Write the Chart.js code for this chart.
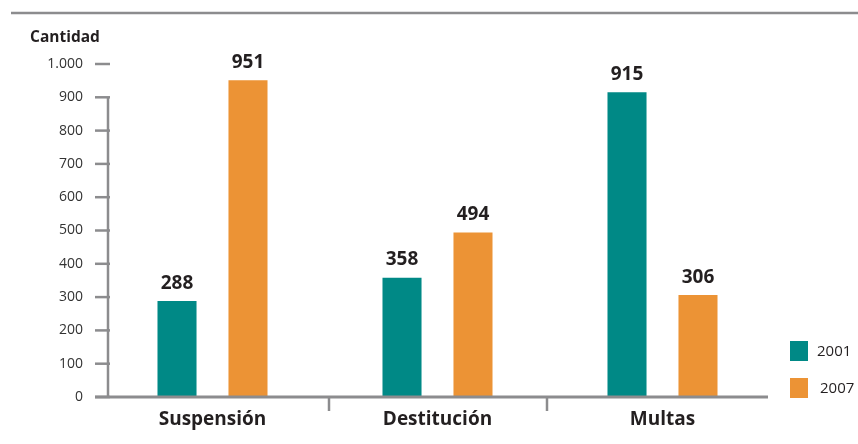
<!DOCTYPE html>
<html>
<head>
<meta charset="utf-8">
<script src="https://cdn.jsdelivr.net/npm/chart.js@4"></script>
<style>
  html, body { margin: 0; padding: 0; background: #fff; }
  #wrap { width: 858px; height: 444px; }
</style>
</head>
<body>
<div id="wrap"><canvas id="myChart1" width="858" height="444"></canvas></div>
<script>
const categories = ['Suspensión', 'Destitución', 'Multas'];
const years = ['2001', '2007'];
const values2001 = [288, 358, 915];
const values2007 = [951, 494, 306];
const yTicks = [0, 100, 200, 300, 400, 500, 600, 700, 800, 900, 1000];

const teal = 'rgb(0, 137, 134)';
const orange = 'rgb(236, 147, 53)';
const gray = '#8c8c8e';
const font = '"Open Sans", "DejaVu Sans", sans-serif';

// axis lines, tick marks, labels above bars, legend, "Cantidad"
const decorations = {
    id: 'decorations',
    afterDraw(chart) {
        const c = chart.ctx;
        const x = chart.scales.x;
        const y = chart.scales.y;
        const bottom = y.getPixelForValue(0);
        c.save();
        c.strokeStyle = gray;
        c.lineCap = 'butt';

        // top rule
        c.lineWidth = 2.5;
        c.beginPath();
        c.moveTo(11, 13);
        c.lineTo(858, 13);
        c.stroke();

        // y axis line (starts at 900) and tick marks
        c.lineWidth = 2.5;
        c.beginPath();
        c.moveTo(108, y.getPixelForValue(900));
        c.lineTo(108, bottom + 1);
        c.stroke();
        yTicks.forEach(v => {
            const py = y.getPixelForValue(v);
            c.beginPath();
            c.moveTo(95, py);
            c.lineTo(110, py);
            c.stroke();
        });

        // x axis line and separators between categories
        c.lineWidth = 3;
        c.beginPath();
        c.moveTo(95, bottom);
        c.lineTo(768, bottom);
        c.stroke();
        c.lineWidth = 2.5;
        const nudge = [4, -3];
        for (let i = 1; i < categories.length; i++) {
            const px = (x.getPixelForValue(i - 1) + x.getPixelForValue(i)) / 2 + nudge[i - 1];
            c.beginPath();
            c.moveTo(px, bottom);
            c.lineTo(px, bottom + 14);
            c.stroke();
        }

        // "Cantidad"
        c.fillStyle = '#231f20';
        c.font = 'bold 15.5px ' + font;
        c.textAlign = 'left';
        c.textBaseline = 'middle';
        c.fillText('Cantidad', 30, 38);

        // values above bars
        c.font = 'bold 19px ' + font;
        c.textAlign = 'center';
        c.textBaseline = 'middle';
        chart.data.datasets.forEach((ds, di) => {
            chart.getDatasetMeta(di).data.forEach((bar, i) => {
                c.fillText(ds.data[i], bar.x, bar.y - 18);
            });
        });

        // legend
        c.font = '15px ' + font;
        c.textAlign = 'left';
        const legendY = [351, 388];
        const textX = [817, 820];
        chart.data.datasets.forEach((ds, di) => {
            c.fillStyle = ds.backgroundColor;
            c.fillRect(790, legendY[di] - 10, 18, 20);
            c.fillStyle = '#231f20';
            c.fillText(ds.label, textX[di], legendY[di] + 1);
        });
        c.restore();
    }
};

new Chart(document.getElementById('myChart1'), {
    type: 'bar',
    data: {
        labels: categories,
        datasets: [{
            label: years[0],
            data: values2001,
            backgroundColor: teal,
            categoryPercentage: 0.631,
            barPercentage: 0.55
        }, {
            label: years[1],
            data: values2007,
            backgroundColor: orange,
            categoryPercentage: 0.631,
            barPercentage: 0.55
        }]
    },
    options: {
        responsive: false,
        animation: false,
        layout: { padding: { top: 64, right: 83, bottom: 0, left: 0 } },
        plugins: {
            legend: { display: false },
            tooltip: { enabled: false }
        },
        scales: {
            x: {
                grid: { display: false, drawTicks: false },
                border: { display: false },
                ticks: {
                    color: '#231f20',
                    font: { family: font, size: 19, weight: 'bold' },
                    padding: 11
                },
                afterFit(s) { s.height = 47; }
            },
            y: {
                min: 0,
                max: 1000,
                afterBuildTicks(s) { s.ticks = yTicks.map(v => ({ value: v })); },
                grid: { display: false, drawTicks: false },
                border: { display: false },
                ticks: {
                    color: '#333',
                    font: { family: font, size: 14 },
                    padding: 17,
                    callback: v => v.toLocaleString('de-DE')
                },
                afterFit(s) { s.width = 100; }
            }
        }
    },
    plugins: [decorations]
});
</script>
</body>
</html>
